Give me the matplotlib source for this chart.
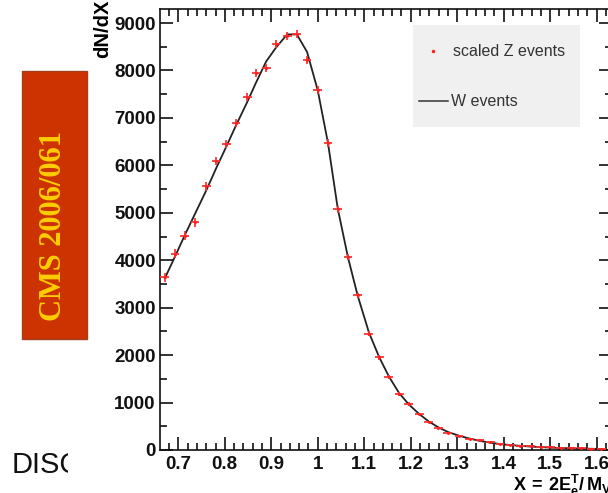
import matplotlib
matplotlib.use("Agg")
import matplotlib.pyplot as plt
from matplotlib.patches import Rectangle
from matplotlib.lines import Line2D
from matplotlib.transforms import Bbox
from matplotlib.ticker import MultipleLocator

# -------------------------------
# Data
# -------------------------------
x_bins = [0.671, 0.693, 0.714, 0.736, 0.760, 0.781, 0.803, 0.824, 0.848, 0.867,
          0.889, 0.910, 0.934, 0.955, 0.977, 1.000, 1.022, 1.043, 1.065, 1.086,
          1.110, 1.132, 1.153, 1.175, 1.196, 1.218, 1.239, 1.259, 1.280, 1.304,
          1.327, 1.349, 1.371, 1.392, 1.414, 1.436, 1.458, 1.480, 1.501, 1.523,
          1.545, 1.567, 1.588, 1.610]

z_scaled = [3640, 4140, 4520, 4800, 5560, 6090, 6450, 6890, 7440, 7950,
            8050, 8560, 8730, 8770, 8220, 7590, 6470, 5070, 4060, 3260,
            2450, 1950, 1540, 1180, 970, 760, 590, 470, 360, 300,
            235, 210, 160, 135, 112, 92, 78, 64, 54, 45,
            38, 32, 28, 24]

w_events = [3620, 4080, 4530, 4980, 5470, 5930, 6390, 6840, 7330, 7740,
            8190, 8480, 8760, 8760, 8390, 7580, 6470, 5090, 4060, 3250,
            2480, 1960, 1550, 1200, 960, 760, 600, 480, 380, 300,
            240, 190, 155, 125, 105, 88, 72, 60, 50, 42,
            36, 30, 26, 22]

z_err = [90, 90, 90, 90, 90, 90, 90, 90, 90, 90,
         90, 90, 90, 90, 90, 90, 85, 75, 65, 60,
         55, 50, 45, 40, 35, 30, 30, 25, 25, 20,
         20, 20, 15, 15, 15, 15, 10, 10, 10, 10,
         10, 10, 10, 10]

W, H = 608, 493


def fx(px):
    return px / W


def fy(py):
    return 1 - py / H


plt.rcParams["font.family"] = ["Liberation Sans", "DejaVu Sans"]
plt.rcParams["mathtext.fontset"] = "custom"
plt.rcParams["mathtext.bf"] = "Liberation Sans:bold"
plt.rcParams["mathtext.rm"] = "Liberation Sans:bold"

fig = plt.figure(figsize=(W / 100, H / 100), dpi=100)
ax = fig.add_axes([fx(160), fy(450), (612 - 160) / W, (450 - 9) / H])

# W events line and scaled Z points
ax.plot(x_bins, w_events, color="#222222", lw=1.3, zorder=2)
ax.errorbar(x_bins, z_scaled, xerr=0.0095, yerr=z_err, fmt=".", ms=2.5,
            color="#ff2020", ecolor="#ff3030", elinewidth=1.4, capsize=0,
            alpha=0.9, zorder=3)

ax.set_xlim(0.6606, 1.633)
ax.set_ylim(0, 9296)

ax.xaxis.set_major_locator(MultipleLocator(0.1))
ax.xaxis.set_minor_locator(MultipleLocator(0.02))
ax.yaxis.set_major_locator(MultipleLocator(1000))
ax.yaxis.set_minor_locator(MultipleLocator(500))
ax.xaxis.set_major_formatter(plt.FuncFormatter(lambda v, p: "%g" % round(v, 1)))

ax.tick_params(which="both", direction="in", top=True, right=True,
               width=1.2, colors="#111111", labelsize=13.5)
ax.tick_params(which="major", length=9.5)
ax.tick_params(which="minor", length=5)
ax.tick_params(axis="x", pad=4)
ax.tick_params(axis="y", pad=3)
for lab in ax.get_xticklabels() + ax.get_yticklabels():
    lab.set_fontweight("bold")
for sp in ax.spines.values():
    sp.set_linewidth(1.2)
    sp.set_color("#111111")

# axis titles
fig.text(fx(103), fy(0), "dN/dX", rotation=90, ha="center", va="top",
         fontsize=14.5, fontweight="bold")
fig.text(fx(612), fy(491), r"$\mathbf{X\,=\,2E_{e}^{T}/\,M_{V}}$",
         ha="right", va="baseline", fontsize=13)

# legend box
fig.patches.append(Rectangle((fx(413), fy(127)), (580 - 413) / W, (127 - 25) / H,
                             transform=fig.transFigure, facecolor="#f0f0f0",
                             edgecolor="none", zorder=5))
fig.lines.append(Line2D([fx(433)], [fy(51)], marker=".", ms=3, color="#ff2020",
                        transform=fig.transFigure, zorder=6))
fig.lines.append(Line2D([fx(419), fx(448)], [fy(101), fy(101)], color="#333333",
                        lw=1.1, transform=fig.transFigure, zorder=6))
fig.text(fx(453), fy(51), "scaled Z events", fontsize=11.5, color="#333333",
         va="center", ha="left", zorder=7)
fig.text(fx(451), fy(101), "W events", fontsize=11.5, color="#333333",
         va="center", ha="left", zorder=7)

# CMS note tag
fig.patches.append(Rectangle((fx(22), fy(339)), (87 - 22) / W, (339 - 71) / H,
                             transform=fig.transFigure, facecolor="#cc3300",
                             edgecolor="#a04020", lw=1, zorder=1))
fig.text(fx(54), fy(226), "CMS 2006/061", rotation=90, ha="center", va="center",
         fontsize=22, fontweight="bold", color="#ffcc00",
         family="Liberation Serif", zorder=2)

# clipped slide text in the corner
t = fig.text(fx(12), fy(473), "DISCLAIMER", fontsize=21, color="#111111",
             ha="left", va="baseline")
t.set_clip_box(Bbox.from_extents(0, 0, 68, H))
t.set_clip_on(True)

fig.savefig("out.png", dpi=100)
